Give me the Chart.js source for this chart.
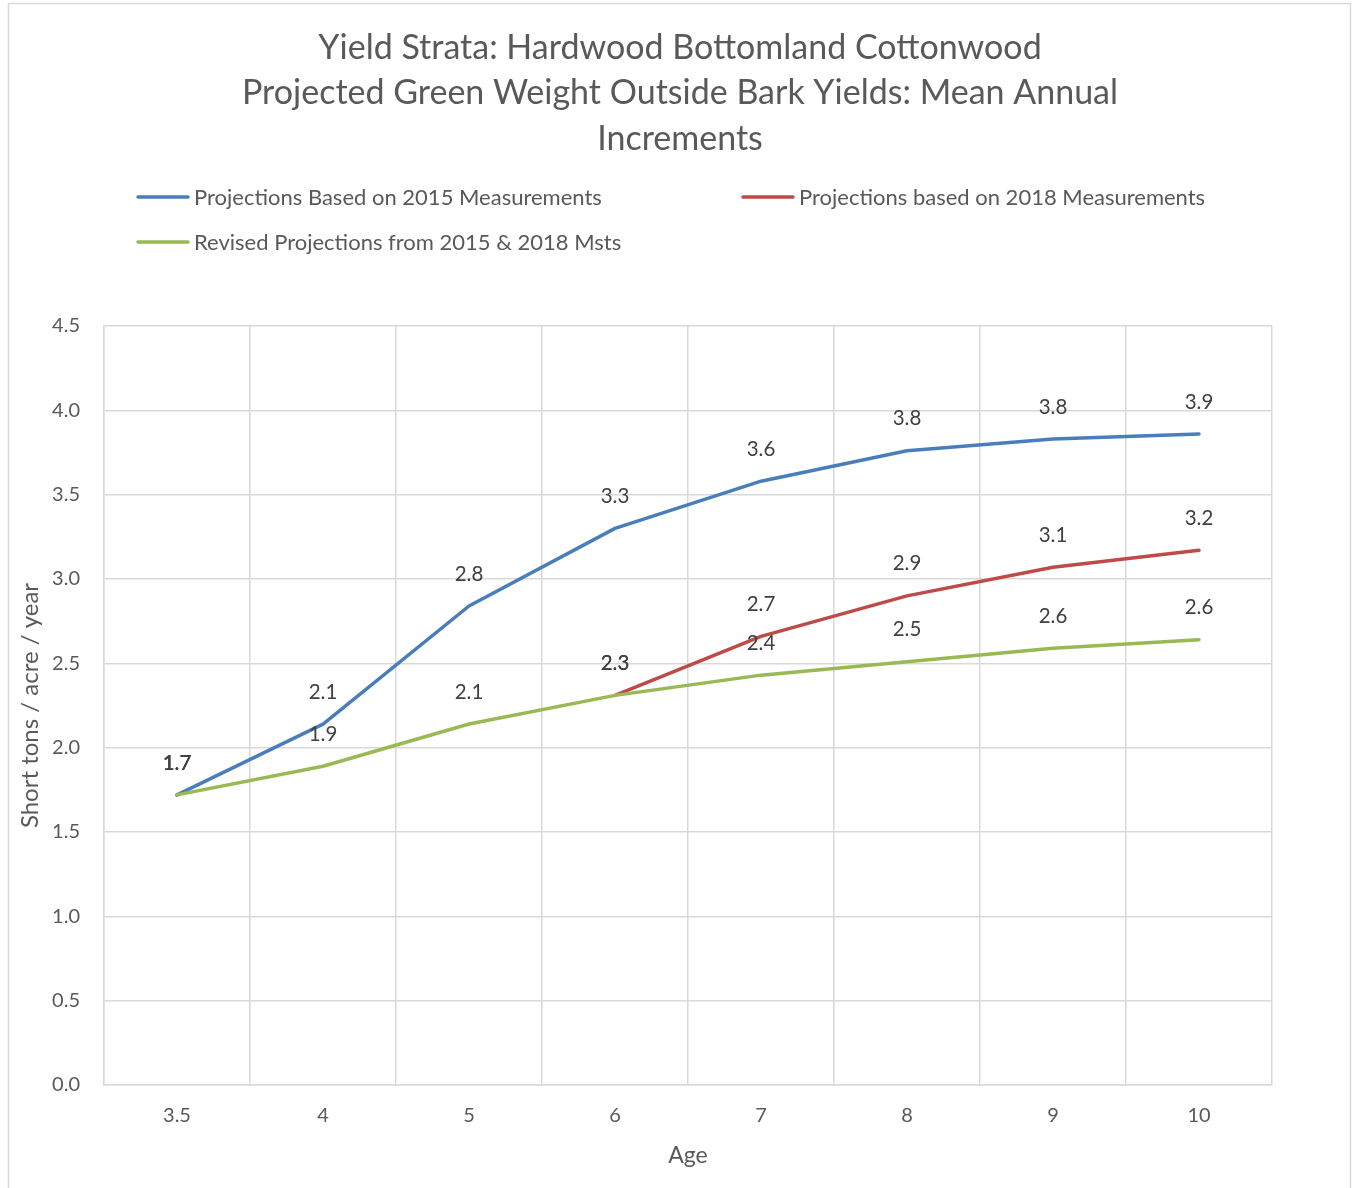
<!DOCTYPE html>
<html>
<head>
<meta charset="utf-8">
<script src="https://cdn.jsdelivr.net/npm/chart.js@4"></script>
<style>
  html, body { margin: 0; padding: 0; background: #ffffff; }
  #wrap { position: relative; width: 1353px; height: 1188px; }
</style>
</head>
<body>
<div id="wrap"><canvas id="chart" width="1353" height="1188"></canvas></div>
<script>
// Stand ages (years) on the category axis
const ages = ['3.5', '4', '5', '6', '7', '8', '9', '10'];

// Mean annual increments, short tons / acre / year
const proj2015 = [1.72, 2.14, 2.84, 3.30, 3.58, 3.76, 3.83, 3.86];
const proj2018 = [1.72, null, null, 2.31, 2.66, 2.90, 3.07, 3.17];
const revised  = [1.72, 1.89, 2.14, 2.31, 2.43, 2.51, 2.59, 2.64];

const seriesNames = [
  'Projections Based on 2015 Measurements',
  'Projections based on 2018 Measurements',
  'Revised Projections from 2015 & 2018 Msts'
];
const seriesColors = ['#4a7ebb', '#be4b48', '#98b954'];

const titleLines = [
  'Yield Strata: Hardwood Bottomland Cottonwood',
  'Projected Green Weight Outside Bark Yields: Mean Annual',
  'Increments'
];

const FONT = 'Lato, "Open Sans", sans-serif';
const TEXT = '#595959';

// Frame, title block and legend rows
const decorations = {
  id: 'decorations',
  beforeDraw(chart) {
    const ctx = chart.ctx;
    ctx.save();
    ctx.fillStyle = '#ffffff';
    ctx.fillRect(0, 0, chart.width, chart.height);
    ctx.strokeStyle = '#d9d9d9';
    ctx.lineWidth = 1.5;
    ctx.strokeRect(8.5, 3.5, 1342, 1200);

    ctx.fillStyle = TEXT;
    ctx.textAlign = 'center';
    ctx.textBaseline = 'middle';
    ctx.font = '34px ' + FONT;
    const titleY = [48, 93, 139];
    titleLines.forEach((t, i) => ctx.fillText(t, 680, titleY[i]));

    const legendPos = [[136, 197], [741, 197], [136, 242]];
    ctx.font = '22px ' + FONT;
    ctx.textAlign = 'left';
    seriesNames.forEach((name, i) => {
      const [x, y] = legendPos[i];
      ctx.strokeStyle = seriesColors[i];
      ctx.lineWidth = 3.5;
      ctx.lineCap = 'round';
      ctx.beginPath();
      ctx.moveTo(x + 2, y);
      ctx.lineTo(x + 52, y);
      ctx.stroke();
      ctx.fillStyle = TEXT;
      ctx.fillText(name, x + 58, y + 1);
    });
    ctx.restore();
  }
};

// Value labels above each point
const valueLabels = {
  id: 'valueLabels',
  afterDatasetsDraw(chart) {
    const ctx = chart.ctx;
    ctx.save();
    ctx.fillStyle = '#404040';
    ctx.font = '20.5px ' + FONT;
    ctx.textAlign = 'center';
    ctx.textBaseline = 'middle';
    chart.data.datasets.forEach((ds, di) => {
      const meta = chart.getDatasetMeta(di);
      meta.data.forEach((pt, i) => {
        const v = ds.data[i];
        if (v === null || v === undefined) return;
        ctx.fillText(v.toFixed(1), pt.x, pt.y - 32);
      });
    });
    ctx.restore();
  }
};

const lineStyle = (label, data, color, order) => ({
  label, data, order,
  borderColor: color,
  backgroundColor: color,
  borderWidth: 3.5,
  pointRadius: 0,
  pointHoverRadius: 0,
  tension: 0,
  spanGaps: false,
  borderCapStyle: 'round',
  borderJoinStyle: 'round',
  fill: false
});

new Chart(document.getElementById('chart'), {
  type: 'line',
  data: {
    labels: ages,
    datasets: [
      lineStyle(seriesNames[0], proj2015, seriesColors[0], 3),
      lineStyle(seriesNames[1], proj2018, seriesColors[1], 2),
      lineStyle(seriesNames[2], revised, seriesColors[2], 1)
    ]
  },
  options: {
    responsive: false,
    animation: false,
    devicePixelRatio: 1,
    layout: { padding: { left: 10, top: 326, right: 81, bottom: 19 } },
    plugins: {
      legend: { display: false },
      title: { display: false },
      tooltip: { enabled: false }
    },
    scales: {
      x: {
        type: 'category',
        offset: true,
        grid: { offset: true, color: '#d9d9d9', lineWidth: 1.5, drawTicks: false },
        border: { color: '#d9d9d9', width: 1.5 },
        ticks: { color: TEXT, font: { family: FONT, size: 20 }, padding: 19, maxRotation: 0 },
        title: {
          display: true, text: 'Age', color: TEXT,
          font: { family: FONT, size: 23 }, padding: { top: 0, bottom: 0 }
        },
        afterFit(scale) { scale.height = 84; }
      },
      y: {
        min: 0, max: 4.5,
        grid: { color: '#d9d9d9', lineWidth: 1.5, drawTicks: false },
        border: { color: '#d9d9d9', width: 1.5 },
        ticks: {
          stepSize: 0.5, color: TEXT, padding: 24,
          font: { family: FONT, size: 20 },
          callback: v => Number(v).toFixed(1)
        },
        title: {
          display: true, text: 'Short tons / acre / year', color: TEXT,
          font: { family: FONT, size: 24 }, padding: { top: 6, bottom: 0 }
        },
        afterFit(scale) { scale.width = 94; }
      }
    }
  },
  plugins: [decorations, valueLabels]
});
</script>
</body>
</html>
